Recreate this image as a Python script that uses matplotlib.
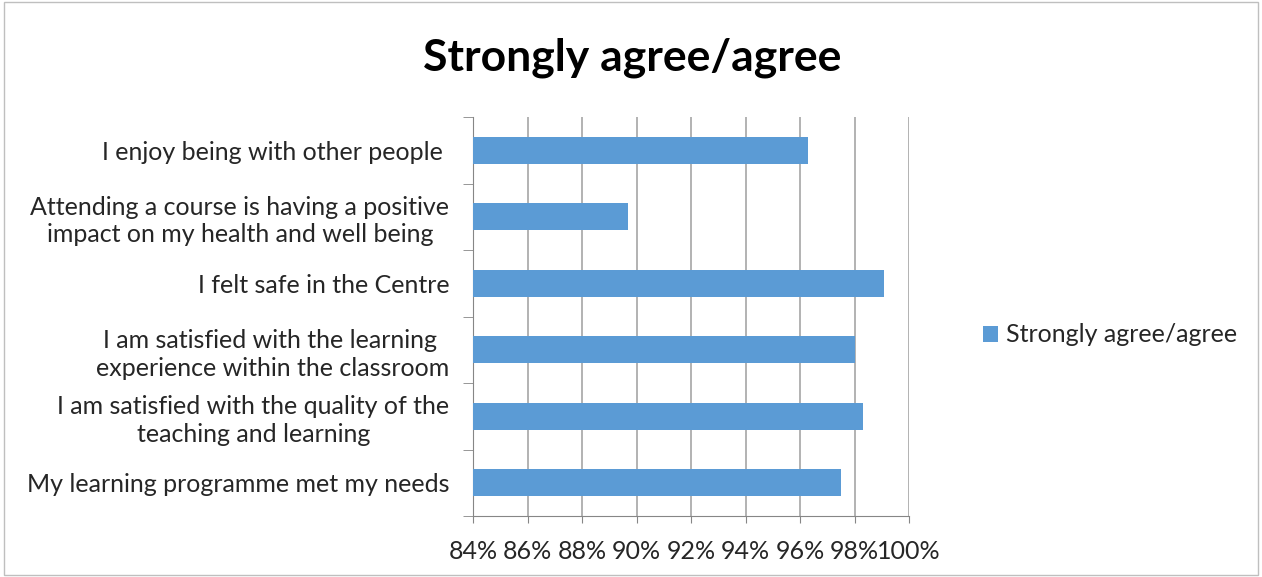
import numpy as np
import matplotlib.pyplot as plt
from matplotlib.patches import Rectangle

categories = [
    "I enjoy being with other people ",
    "Attending a course is having a positive\nimpact on my health and well being",
    "I felt safe in the Centre",
    "I am satisfied with the learning \nexperience within the classroom",
    "I am satisfied with the quality of the\nteaching and learning",
    "My learning programme met my needs",
]
values = [96.3, 89.7, 99.1, 98.0, 98.3, 97.5]
xticks = [84, 86, 88, 90, 92, 94, 96, 98, 100]
series_name = "Strongly agree/agree"

plt.rcParams['font.family'] = ['Lato', 'DejaVu Sans']
txt = '#262626'

fig = plt.figure(figsize=(12.62, 5.77), dpi=100)
ax = fig.add_axes([473/1262, 1-516/577, (909-473)/1262, (516-117)/577])

y = np.arange(len(categories))
ax.barh(y, values, height=0.4, color='#5B9BD5', label=series_name, zorder=3)
ax.set_xlim(84, 100)
ax.set_ylim(len(categories) - 0.5, -0.5)

ax.set_xticks(xticks)
ax.set_xticklabels([f"{t}%" for t in xticks], fontsize=18, color=txt)
ax.set_yticks(y)
ax.set_yticklabels(categories, fontsize=18, color=txt, multialignment='center',
                   linespacing=1.25)
ax.tick_params(axis='y', length=0, pad=17)
ax.set_yticks(np.arange(len(categories) + 1) - 0.5, minor=True)
ax.tick_params(axis='y', which='minor', length=7, color='#868686')
ax.tick_params(axis='x', length=5, color='#868686', pad=12)

ax.grid(axis='x', color='#A6A6A6', linewidth=1.2, zorder=0)
for s in ['top', 'right']:
    ax.spines[s].set_visible(False)
ax.spines['left'].set_color('#868686')
ax.spines['bottom'].set_color('#868686')

fig.text(632/1262, 1-58/577, "Strongly agree/agree", ha='center', va='center',
         fontsize=32, fontweight='bold', color='black')

fig.legend(loc='center left', bbox_to_anchor=(960/1262, 1-335/577), frameon=False,
           fontsize=18, handlelength=0.6, handleheight=0.6, handletextpad=0.35,
           labelcolor=txt)

fig.patches.append(Rectangle((0.003, 0.003), 0.994, 0.994, transform=fig.transFigure,
                             fill=False, edgecolor='#BFBFBF', linewidth=1))

fig.savefig('out.png', dpi=100)
